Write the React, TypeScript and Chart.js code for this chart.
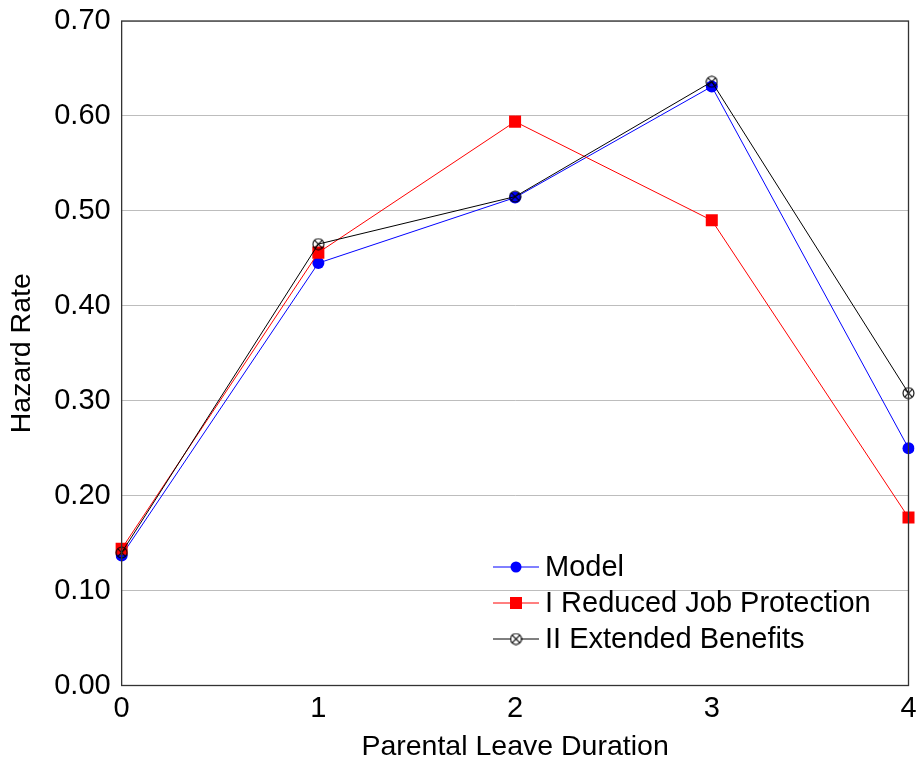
import React, { useEffect, useRef } from "react";
import { Chart, registerables } from "chart.js";

Chart.register(...registerables);

const categories = ["0", "1", "2", "3", "4"];
const modelValues = [0.137, 0.445, 0.514, 0.631, 0.25];
const reducedJobProtection = [0.144, 0.456, 0.594, 0.49, 0.177];
const extendedBenefits = [0.14, 0.465, 0.515, 0.636, 0.308];
const seriesLabels = ["Model", "I Reduced Job Protection", "II Extended Benefits"];
const yTicks = [0, 0.1, 0.2, 0.3, 0.4, 0.5, 0.6, 0.7];

const FONT = "'Liberation Sans', Arial, Helvetica, sans-serif";

function makeOtimes(size: number): HTMLCanvasElement {
  const c = document.createElement("canvas");
  c.width = size;
  c.height = size;
  const g = c.getContext("2d")!;
  const r = size / 2 - 1;
  const m = size / 2;
  g.strokeStyle = "#000";
  g.lineWidth = 1.1;
  g.beginPath();
  g.arc(m, m, r, 0, Math.PI * 2);
  g.stroke();
  const d = r * Math.SQRT1_2;
  g.beginPath();
  g.moveTo(m - d, m - d);
  g.lineTo(m + d, m + d);
  g.moveTo(m - d, m + d);
  g.lineTo(m + d, m - d);
  g.stroke();
  return c;
}

export default function App() {
  const ref = useRef<HTMLCanvasElement | null>(null);
  useEffect(() => {
    document.body.style.margin = "0";
    const otimes = makeOtimes(13);
    const frame = {
      id: "frame",
      afterDraw(chart: any) {
        const { ctx, chartArea: a } = chart;
        ctx.save();
        ctx.strokeStyle = "#333";
        ctx.lineWidth = 1.3;
        ctx.strokeRect(a.left, a.top, a.right - a.left, a.bottom - a.top);
        // legend
        const rows = [567, 603, 639];
        const x1 = 493;
        const x2 = 539;
        const xm = (x1 + x2) / 2;
        chart.data.datasets.forEach((ds: any, i: number) => {
          const y = rows[i];
          ctx.strokeStyle = ds.borderColor;
          ctx.lineWidth = 1;
          ctx.beginPath();
          ctx.moveTo(x1, y);
          ctx.lineTo(x2, y);
          ctx.stroke();
          if (i === 0) {
            ctx.fillStyle = ds.backgroundColor;
            ctx.beginPath();
            ctx.arc(xm, y, 5.5, 0, Math.PI * 2);
            ctx.fill();
          } else if (i === 1) {
            ctx.fillStyle = ds.backgroundColor;
            ctx.fillRect(xm - 6, y - 6, 12, 12);
          } else {
            ctx.fillStyle = "#fff";
            ctx.beginPath();
            ctx.arc(xm, y, 5, 0, Math.PI * 2);
            ctx.fill();
            ctx.drawImage(otimes, xm - 6.5, y - 6.5);
          }
          ctx.fillStyle = "#000";
          ctx.font = `29px ${FONT}`;
          ctx.textBaseline = "middle";
          ctx.textAlign = "left";
          ctx.fillText(ds.label, 545, y + 1);
        });
        ctx.restore();
      },
    };
    const chart = new Chart(ref.current!, {
      type: "line",
      data: {
        labels: categories,
        datasets: [
          {
            label: seriesLabels[0],
            data: modelValues,
            order: 3,
            borderColor: "#0000ff",
            backgroundColor: "#0000ff",
            borderWidth: 1,
            pointStyle: "circle",
            pointRadius: 6,
            pointBorderWidth: 0,
          },
          {
            label: seriesLabels[1],
            data: reducedJobProtection,
            order: 2,
            borderColor: "#ff0000",
            backgroundColor: "#ff0000",
            borderWidth: 1,
            pointStyle: "rect",
            pointRadius: 8.5,
            pointBorderWidth: 0,
          },
          {
            label: seriesLabels[2],
            data: extendedBenefits,
            order: 1,
            borderColor: "#000000",
            backgroundColor: "rgba(0,0,0,0)",
            borderWidth: 1,
            pointStyle: otimes as any,
            pointRadius: 6,
          },
        ],
      },
      options: {
        animation: false,
        responsive: false,
        layout: { padding: { top: 0, right: 0, left: 5, bottom: 0 } },
        plugins: { legend: { display: false }, tooltip: { enabled: false } },
        scales: {
          x: {
            type: "category",
            offset: false,
            grid: { display: false, drawTicks: false, tickLength: 0 },
            border: { display: false },
            ticks: { color: "#000", font: { family: FONT, size: 29, lineHeight: 1 }, padding: 9 },
            title: {
              display: true,
              text: "Parental Leave Duration",
              color: "#000",
              font: { family: FONT, size: 28.5, lineHeight: 1.0 },
              padding: { top: 0, bottom: 1 },
            },
            afterFit(scale: any) {
              scale.paddingRight = 8;
            },
          },
          y: {
            min: 0,
            max: 0.7,
            afterBuildTicks(axis: any) {
              axis.ticks = yTicks.map((v) => ({ value: v }));
            },
            grid: { color: "#bdbdbd", lineWidth: 1, drawTicks: false, tickLength: 0 },
            border: { display: false },
            ticks: {
              color: "#000",
              font: { family: FONT, size: 29 },
              padding: 11,
              callback: (v: any) => Number(v).toFixed(2),
            },
            title: {
              display: true,
              text: "Hazard Rate",
              color: "#000",
              font: { family: FONT, size: 28.5 },
              padding: { top: 0, bottom: 4 },
            },
            afterFit(scale: any) {
              scale.paddingTop = 21;
            },
          },
        },
      },
      plugins: [frame],
    });
    return () => chart.destroy();
  }, []);
  return (
    <div style={{ width: 917, height: 762 }}>
      <canvas ref={ref} width={917} height={762} style={{ display: "block" }} />
    </div>
  );
}
